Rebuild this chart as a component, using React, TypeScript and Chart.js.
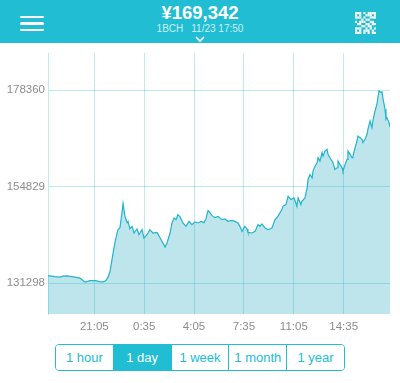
import React, { useEffect, useRef } from 'react';
import { Chart, registerables } from 'chart.js';
Chart.register(...registerables);

// minutes since 11/22 17:50
const minutes = [
  0, 29, 51, 63, 80, 114, 135, 156, 177, 198, 219, 232, 244, 253, 261, 274, 282, 291, 295, 303,
  312, 316, 324, 333, 337, 345, 354, 362, 375, 383, 396, 404, 417, 429, 442, 459, 472, 484, 493, 501,
  514, 522, 531, 539, 547, 556, 568, 581, 594, 606, 619, 632, 644, 657, 665, 674, 682, 691, 703, 716,
  733, 745, 758, 775, 787, 800, 808, 817, 829, 838, 842, 859, 872, 884, 893, 901, 914, 926, 943, 956,
  968, 985, 989, 1002, 1011, 1023, 1036, 1048, 1053, 1065, 1069, 1082, 1091, 1095, 1103, 1112, 1116, 1124, 1133, 1137,
  1145, 1154, 1158, 1166, 1175, 1179, 1187, 1196, 1200, 1208, 1217, 1221, 1229, 1238, 1242, 1251, 1259, 1263, 1272, 1280,
  1284, 1293, 1301, 1305, 1314, 1322, 1326, 1335, 1343, 1347, 1356, 1364, 1368, 1377, 1385, 1389, 1394, 1402, 1406, 1411,
  1419, 1423, 1427, 1436, 1440,
];
const prices = [
  133164, 132919, 132772, 133017, 133090, 132772, 132528, 131549, 131940, 131940, 131700, 131622, 131940, 132772, 134143, 138645, 141166, 143539, 144347, 144836,
  148751, 150709, 147601, 146060, 146378, 144591, 145154, 143539, 144518, 143123, 144347, 142316, 143123, 144347, 143539, 143686, 142316, 141092, 140114, 141092,
  143539, 145986, 147210, 146794, 148017, 147454, 145986, 145154, 146378, 145570, 146231, 145986, 146378, 146060, 147038, 148996, 148433, 147772, 147283, 147601,
  146794, 146965, 146378, 146622, 146378, 145986, 145154, 143931, 145154, 144518, 143686, 143539, 143931, 145570, 145154, 145742, 144763, 144347, 144763, 146794,
  147601, 149241, 150048, 150464, 152495, 151688, 152104, 150048, 152104, 150464, 151272, 152104, 154551, 156582, 157805, 156998, 158613, 159836, 160668, 161892,
  161060, 163115, 162283, 163507, 163923, 162699, 161892, 161060, 160668, 159029, 159445, 161060, 160252, 159445, 158613, 160252, 161476, 163507, 162699, 161892,
  162283, 164339, 165954, 167177, 166786, 166370, 165562, 166370, 167593, 168817, 170848, 169233, 170848, 173295, 174934, 176574, 178189, 177797, 177944, 176158,
  173711, 171264, 171680, 170456, 169342,
];
const xTickMinutes = [195, 405, 615, 825, 1035, 1245];
const xTickLabels = ['21:05', '0:35', '4:05', '7:35', '11:05', '14:35'];
const yTicks = [131298, 154829, 178360];
const yMin = 123790;
const yMax = 187420;
const ranges = ['1 hour', '1 day', '1 week', '1 month', '1 year'];
const selectedRange = '1 day';
const headerPrice = '¥169,342';
const headerUnit = '1BCH';
const headerTime = '11/23 17:50';

const TEAL = '#21BDD3';
const FONT = '"Liberation Sans", Arial, sans-serif';

const qrCells = [
  '1110101111',
  '1010011101',
  '1110100111',
  '0001011000',
  '1011100110',
  '0110011011',
  '0001101100',
  '1110010101',
  '1010111010',
  '1110101011',
];

function QrIcon() {
  const rects: JSX.Element[] = [];
  qrCells.forEach((row, r) =>
    row.split('').forEach((c, k) => {
      if (c === '1') rects.push(<rect key={r + '-' + k} x={k * 2.1} y={r * 2.2} width={2.1} height={2.2} fill="#fff" />);
    })
  );
  return (
    <svg width={21} height={22} style={{ position: 'absolute', left: 355, top: 12 }}>
      {rects}
    </svg>
  );
}

function PriceChart() {
  const ref = useRef<HTMLCanvasElement | null>(null);
  useEffect(() => {
    if (!ref.current) return;
    const chart = new Chart(ref.current, {
      type: 'line',
      data: {
        datasets: [
          {
            data: minutes.map((m, i) => ({ x: m, y: prices[i] })),
            borderColor: '#22B4CC',
            borderWidth: 1.2,
            backgroundColor: 'rgba(38,168,188,0.3)',
            fill: 'start',
            pointRadius: 0,
            tension: 0,
          },
        ],
      },
      options: {
        animation: false,
        responsive: false,
        events: [],
        layout: { padding: { top: 10, right: 10, left: 0, bottom: 0 } },
        plugins: { legend: { display: false }, tooltip: { enabled: false } },
        scales: {
          x: {
            type: 'linear',
            min: 0,
            max: 1440,
            afterBuildTicks: (s: any) => {
              s.ticks = xTickMinutes.map((v) => ({ value: v }));
            },
            afterFit: (s: any) => {
              s.height = 24;
            },
            ticks: {
              autoSkip: false,
              maxRotation: 0,
              padding: 6,
              color: '#8c8c8c',
              font: { family: FONT, size: 11.5 },
              callback: (v: any) => {
                const i = xTickMinutes.indexOf(Number(v));
                return i >= 0 ? xTickLabels[i] : '';
              },
            },
            grid: { color: 'rgba(33,188,211,0.3)', drawTicks: false, lineWidth: 1 },
            border: { display: false },
          },
          y: {
            min: yMin,
            max: yMax,
            afterBuildTicks: (s: any) => {
              s.ticks = yTicks.map((v) => ({ value: v }));
            },
            afterFit: (s: any) => {
              s.width = 48;
            },
            ticks: {
              padding: 3,
              color: '#8c8c8c',
              font: { family: FONT, size: 11.5 },
              callback: (v: any) => String(v),
            },
            grid: { color: 'rgba(33,188,211,0.3)', drawTicks: false, lineWidth: 1 },
            border: { display: true, color: 'rgba(33,188,211,0.3)' },
          },
        },
      },
    });
    return () => chart.destroy();
  }, []);
  return (
    <canvas
      ref={ref}
      width={400}
      height={295}
      style={{ position: 'absolute', left: 0, top: 43, width: 400, height: 295 }}
    />
  );
}

export default function App() {
  return (
    <div
      style={{
        position: 'absolute',
        left: 0,
        top: 0,
        width: 400,
        height: 383,
        background: '#fff',
        overflow: 'hidden',
        fontFamily: FONT,
      }}
    >
      <div style={{ position: 'absolute', left: 0, top: 0, width: 400, height: 43, background: TEAL }}>
        {[15.5, 22, 28.5].map((t) => (
          <div
            key={t}
            style={{ position: 'absolute', left: 20, top: t, width: 24, height: 2.5, borderRadius: 1.5, background: '#fff' }}
          />
        ))}
        <div
          style={{
            position: 'absolute',
            left: 0,
            width: 400,
            top: 4.3,
            textAlign: 'center',
            color: '#fff',
            fontWeight: 'bold',
            fontSize: 18.5,
            lineHeight: '18.5px',
          }}
        >
          {headerPrice}
        </div>
        <div
          style={{
            position: 'absolute',
            left: 0,
            width: 400,
            top: 23.8,
            textAlign: 'center',
            color: 'rgba(255,255,255,0.78)',
            fontSize: 10,
            lineHeight: '10px',
          }}
        >
          <span style={{ marginRight: 8 }}>{headerUnit}</span>
          <span>{headerTime}</span>
        </div>
        <svg width={12} height={8} style={{ position: 'absolute', left: 194, top: 35 }}>
          <polyline points="2,2 6,6 10,2" fill="none" stroke="#fff" strokeWidth={1.6} />
        </svg>
        <QrIcon />
      </div>
      <PriceChart />
      <div
        style={{
          position: 'absolute',
          left: 55,
          top: 344,
          width: 290,
          height: 27,
          boxSizing: 'border-box',
          border: '1px solid ' + TEAL,
          borderRadius: 4,
          overflow: 'hidden',
          display: 'flex',
        }}
      >
        {ranges.map((r, i) => {
          const sel = r === selectedRange;
          return (
            <div
              key={r}
              style={{
                flex: 1,
                boxSizing: 'border-box',
                borderLeft: i === 0 ? 'none' : '1px solid ' + TEAL,
                background: sel ? TEAL : '#fff',
                color: sel ? '#fff' : TEAL,
                fontSize: 13,
                lineHeight: '25px',
                textAlign: 'center',
              }}
            >
              {r}
            </div>
          );
        })}
      </div>
    </div>
  );
}
